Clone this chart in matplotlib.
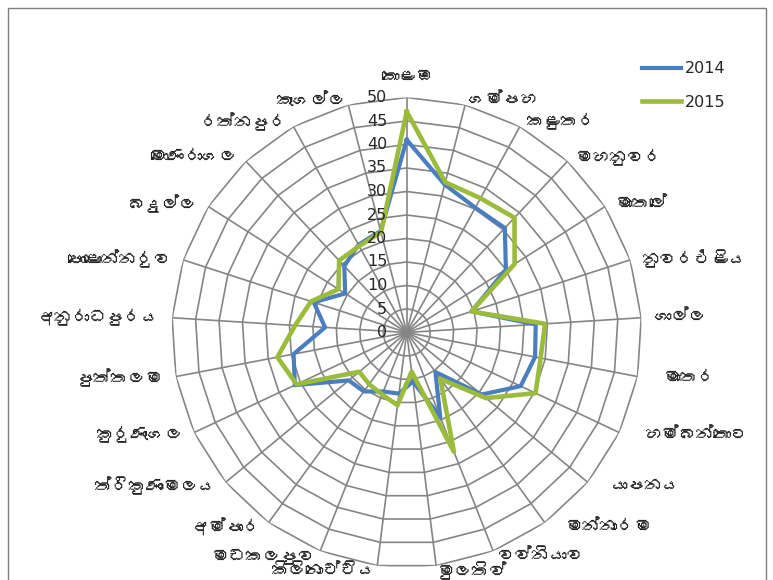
import numpy as np
import matplotlib
matplotlib.use("Agg")
import matplotlib.pyplot as plt
from matplotlib import font_manager
from matplotlib.ft2font import FT2Font
from matplotlib.patches import Rectangle

# District names (Sinhala), clockwise from the top
districts = [
    "කොළඹ", "ගම්පහ", "කළුතර", "මහනුවර", "මාතලේ", "නුවරඑළිය",
    "ගාල්ල", "මාතර", "හම්බන්තොට", "යාපනය", "මන්නාරම", "වව්නියාව",
    "මුලතිව්", "කිලිනොච්චිය", "මඩකලපුව", "අම්පාර", "ත්රිකුණාමලය",
    "කුරුණෑගල", "පුත්තලම", "අනුරාධපුරය", "පොළොන්නරුව", "බදුල්ල",
    "මොණරාගල", "රත්නපුර", "කෑගල්ල",
]
values_2014 = [41, 32.5, 30.3, 30.5, 25, 14.5, 27.5, 27.8, 26.8, 20.7, 10.4, 19.4,
               10.5, 13.1, 13.5, 15.5, 16, 26.3, 24.5, 17.4, 20.8, 15.5, 19.4, 21.3, 22.3]
values_2015 = [47, 33, 32.6, 33.5, 27.2, 14.5, 29.5, 29, 30.3, 21.9, 12.2, 27.3,
               8.4, 15.6, 14.2, 13.6, 13.1, 25.9, 28, 23.8, 21.4, 17.2, 21, 21, 22]
series_labels = ["2014", "2015"]
radial_ticks = [0, 5, 10, 15, 20, 25, 30, 35, 40, 45, 50]


def font_with_glyph(ch):
    """Return the name of an installed font that contains the given character."""
    for entry in font_manager.fontManager.ttflist:
        try:
            if ord(ch) in FT2Font(entry.fname).get_charmap():
                return entry.name
        except Exception:
            continue
    return None


sinhala_font = font_with_glyph("ක")
label_family = [sinhala_font, "DejaVu Sans"] if sinhala_font else ["DejaVu Sans"]

W, H = 773, 580
fig = plt.figure(figsize=(W / 100, H / 100), dpi=100)
fig.patch.set_facecolor("white")

# Chart-area frame
fig.patches.append(Rectangle((8 / W, -0.02), (766 - 8) / W, 1.02 - 8 / H,
                             transform=fig.transFigure, fill=False,
                             edgecolor="#7f7f7f", linewidth=1.0))

cx, cy, R = 406.7, 332.5, 235.0
ax = fig.add_axes([(cx - R) / W, (H - cy - R) / H, 2 * R / W, 2 * R / H],
                  projection="polar")
ax.set_theta_zero_location("N")
ax.set_theta_direction(-1)
ax.set_ylim(0, 50)
ax.grid(False)
ax.set_xticks([])
ax.set_yticks([])
ax.spines["polar"].set_visible(False)
ax.set_facecolor("none")

n = len(districts)
angles = np.arange(n) * 2 * np.pi / n
closed = np.append(angles, angles[0])

grid_kw = dict(color="#858585", linewidth=1.2, zorder=1)
# Polygon rings
for r in radial_ticks[1:]:
    ax.plot(closed, [r] * (n + 1), **grid_kw)
# Spokes
for a in angles:
    ax.plot([a, a], [0, 50], **grid_kw)

# Data series
ax.plot(closed, values_2014 + values_2014[:1], color="#4a7ebf", linewidth=3.0,
        label=series_labels[0], zorder=3)
ax.plot(closed, values_2015 + values_2015[:1], color="#9bbb3b", linewidth=3.3,
        label=series_labels[1], zorder=4)

# Radial value labels along the top spoke
for r in radial_ticks:
    ax.annotate(str(r), xy=(0, r), xytext=(-14, 0), textcoords="offset points",
                ha="right", va="center", fontsize=11.5, color="#262626",
                annotation_clip=False, zorder=5)

# District labels around the outer ring
for a, name in zip(angles, districts):
    dx, dy = np.sin(a), np.cos(a)
    ha = "left" if dx > 0.05 else ("right" if dx < -0.05 else "center")
    top = dy > 0.99
    va = "bottom" if top else "center"
    extra_x = 10 if (dx > 0.5 and dy < -0.1) else 0
    off = (9 * dx + extra_x, 4 * dy + (6 if top else 0))
    ax.annotate(name, xy=(a, 50), xytext=off,
                textcoords="offset points", ha=ha, va=va, fontsize=12.5,
                color="#262626", family=label_family, annotation_clip=False)

leg = fig.legend(loc="upper left", bbox_to_anchor=(628 / W, 1 - 47 / H),
                 frameon=False, fontsize=11.5, handlelength=2.4, labelspacing=1.15,
                 handletextpad=0.25)
for t in leg.get_texts():
    t.set_color("#262626")

fig.savefig("out.png", dpi=100)
